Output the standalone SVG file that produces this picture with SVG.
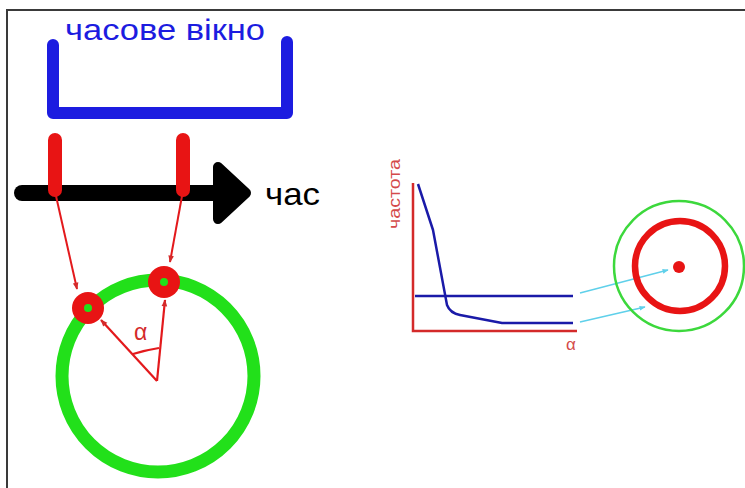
<svg xmlns="http://www.w3.org/2000/svg" width="745" height="488" viewBox="0 0 745 488">
<defs>
<style>
.lbl{font-family:"Liberation Sans",Arial,sans-serif}
.red{stroke:#e3191c;fill:none}
</style>
<marker id="ar2" viewBox="0 0 10 10" refX="9" refY="5" markerWidth="9" markerHeight="7" orient="auto" markerUnits="userSpaceOnUse">
<path d="M0,1 L10,5 L0,9 z" fill="#d42a2a"/>
</marker>
<marker id="ac" viewBox="0 0 10 10" refX="9" refY="5" markerWidth="10" markerHeight="6" orient="auto" markerUnits="userSpaceOnUse">
<path d="M0,1 L10,5 L0,9 z" fill="#5fd0ea"/>
</marker>
</defs>
<rect x="0" y="0" width="745" height="488" fill="#fff"/>
<path d="M7,488 V10 H745" fill="none" stroke="#3a3a3a" stroke-width="2"/>

<g id="window">
<path d="M53,45 V113 H287 V42" fill="none" stroke="#1c1ce0" stroke-width="12" stroke-linecap="round" stroke-linejoin="round"/>
<text class="lbl" x="65" y="40" font-size="29" fill="#1c1ce0" textLength="200" lengthAdjust="spacingAndGlyphs">часове вікно</text>
</g>

<g id="timeline">
<line x1="22" y1="193" x2="222" y2="193" stroke="#000" stroke-width="16" stroke-linecap="round"/>
<path d="M218,167 L246,193 L218,219 Z" fill="#000" stroke="#000" stroke-width="10" stroke-linejoin="round"/>
<text class="lbl" x="265" y="205" font-size="32" fill="#000" textLength="55" lengthAdjust="spacingAndGlyphs">час</text>
</g>

<g id="markers">
<line x1="55" y1="140" x2="55" y2="190" stroke="#e81414" stroke-width="14" stroke-linecap="round"/>
<line x1="183" y1="140" x2="183" y2="190" stroke="#e81414" stroke-width="14" stroke-linecap="round"/>
</g>

<g id="circle">
<circle cx="158" cy="376" r="96" fill="none" stroke="#22e01a" stroke-width="13"/>
</g>

<g id="connectors">
<line x1="56" y1="196" x2="77" y2="289" class="red" stroke-width="2" marker-end="url(#ar2)"/>
<line x1="182" y1="196" x2="170" y2="262" class="red" stroke-width="2" marker-end="url(#ar2)"/>
<line x1="157" y1="381" x2="101" y2="320" class="red" stroke-width="2.2" marker-end="url(#ar2)"/>
<line x1="157" y1="381" x2="165" y2="300" class="red" stroke-width="2.2" marker-end="url(#ar2)"/>
<path d="M133,354 Q146,350 159,348" class="red" stroke-width="2.2"/>
<line x1="580" y1="293" x2="668" y2="270" stroke="#5fd0ea" stroke-width="1.5" marker-end="url(#ac)"/>
<line x1="580" y1="322" x2="645" y2="307" stroke="#5fd0ea" stroke-width="1.5" marker-end="url(#ac)"/>
</g>

<g id="point1">
<circle cx="88" cy="308" r="16" fill="#e81414"/>
<circle cx="88" cy="308" r="4" fill="#22e01a"/>
</g>
<g id="point2">
<circle cx="164" cy="282" r="16" fill="#e81414"/>
<circle cx="164" cy="282" r="4" fill="#22e01a"/>
</g>
<text class="lbl" x="134" y="340" font-size="23" fill="#d42a2a">α</text>

<g id="chart">
<path d="M413,183 V331 H577" fill="none" stroke="#d42a2a" stroke-width="2.5"/>
<text class="lbl" transform="translate(400,229) rotate(-90)" font-size="17" fill="#d44a4a" textLength="70" lengthAdjust="spacingAndGlyphs">частота</text>
<text class="lbl" x="566" y="350" font-size="17" fill="#d44a4a">α</text>
<path d="M418,184 L433,230 L447,305 Q450,313 460,315 L502,323 L573,323" fill="none" stroke="#1a1aa8" stroke-width="2.5" stroke-linejoin="round"/>
<line x1="415" y1="296" x2="573" y2="296" stroke="#1a1aa8" stroke-width="2.5"/>
</g>

<g id="target">
<circle cx="679" cy="266" r="65" fill="none" stroke="#3cd83c" stroke-width="2.5"/>
<circle cx="680" cy="266" r="45" fill="none" stroke="#e81414" stroke-width="6.5"/>
<circle cx="679" cy="267" r="6" fill="#e81414"/>
</g>
</svg>
